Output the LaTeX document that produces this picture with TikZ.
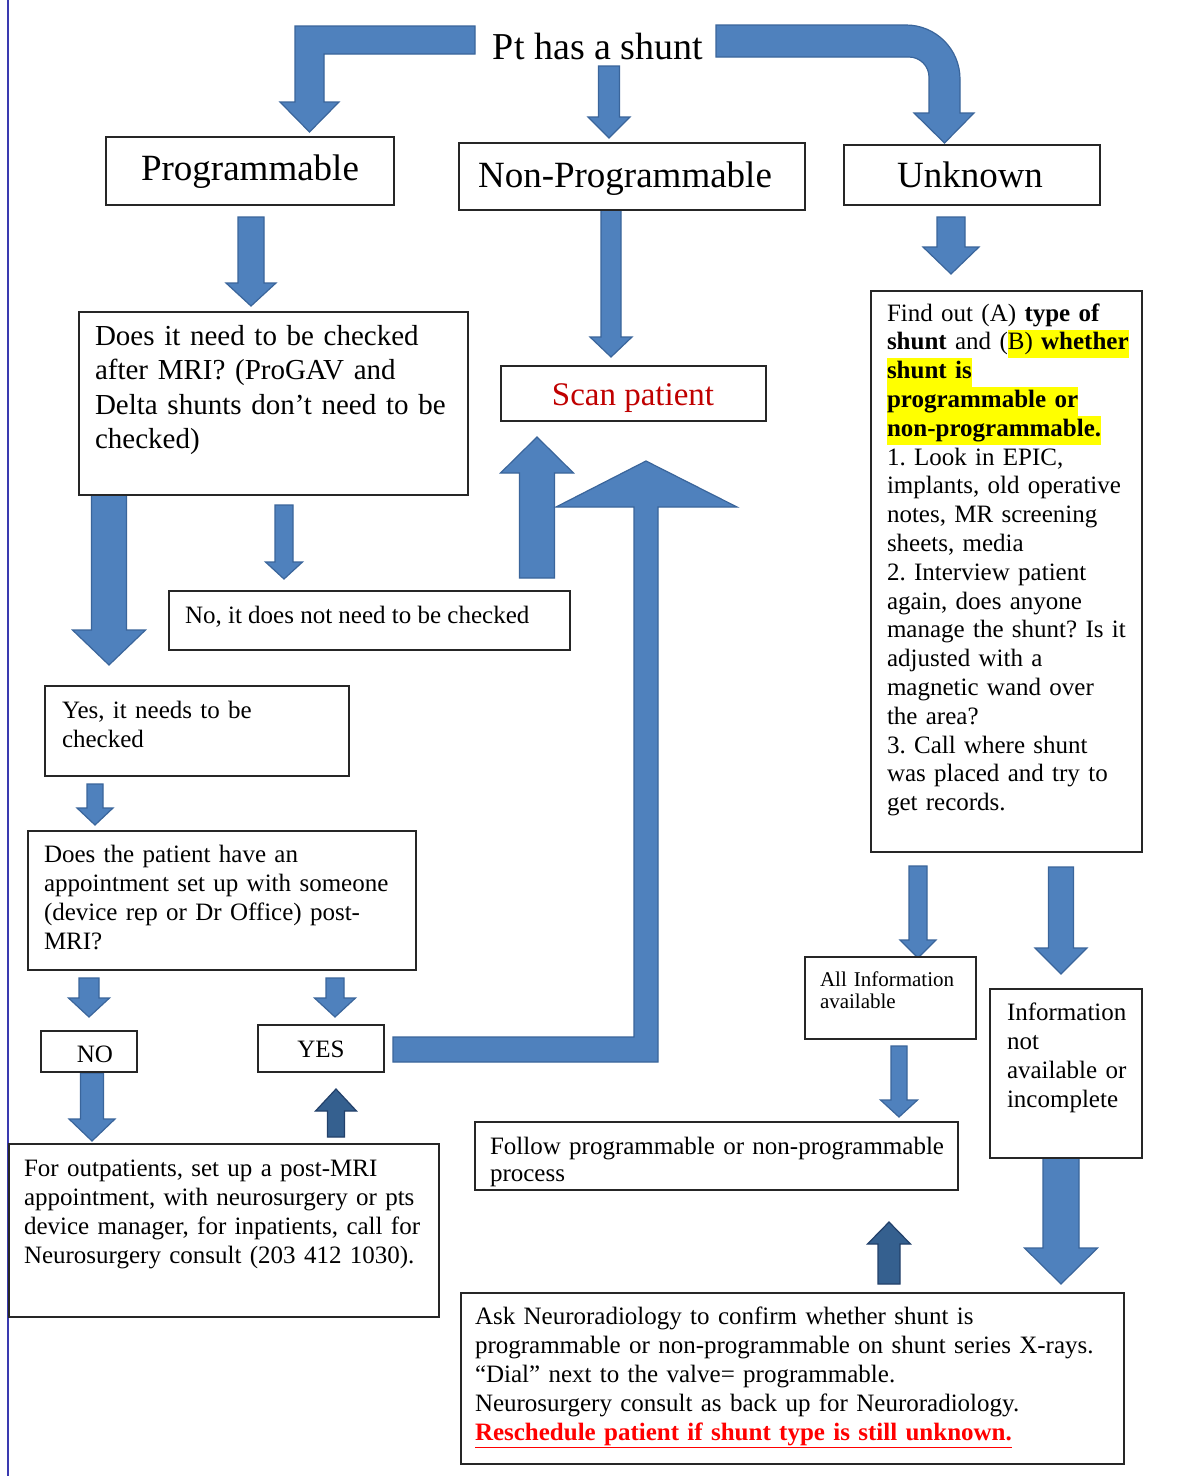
\documentclass[tikz,border=0pt]{standalone}
\usepackage{fontspec}
\setmainfont{Liberation Serif}
\frenchspacing
\definecolor{arrowfill}{HTML}{4F81BD}
\definecolor{arrowline}{HTML}{3A659B}
\definecolor{darkfill}{HTML}{35608F}
\definecolor{darkline}{HTML}{22406A}
\definecolor{scanred}{HTML}{C00000}
\definecolor{resred}{HTML}{FF0000}
\definecolor{edgeblue}{HTML}{3A3AB0}
\definecolor{hlyellow}{HTML}{FFFF00}
\newcommand\HL[1]{{\setlength{\fboxsep}{0pt}\colorbox{hlyellow}{\strut #1}}}
% cx, tail y, head-base y, tip y, shaft width, head width
\newcommand\BArrow[7][blockarrow]{\filldraw[#1] ({#2-#6/2},{#3}) -- ({#2+#6/2},{#3}) -- ({#2+#6/2},{#4}) -- ({#2+#7/2},{#4}) -- ({#2},{#5}) -- ({#2-#7/2},{#4}) -- ({#2-#6/2},{#4}) -- cycle;}
\newcommand\BoxAt[5]{\node[box, minimum width={#4-#2}, minimum height={#5-#3}] (#1) at ({(#2+#4)/2},{(#3+#5)/2}) {};}
\tikzset{
  box/.style={draw=black!85, line width=1.3pt, inner sep=0pt, outer sep=0pt, fill=white, rectangle},
  blockarrow/.style={fill=arrowfill, draw=arrowline, line width=1.2pt, line join=miter},
  darkarrow/.style={fill=darkfill, draw=darkline, line width=1.2pt, line join=miter},
  txt/.style={inner sep=0pt, outer sep=0pt, align=left, font=\fontsize{25}{29}\selectfont},
  bigtxt/.style={inner sep=0pt, outer sep=0pt, font=\fontsize{37}{44}\selectfont},
}
\begin{document}
\begin{tikzpicture}[x=1pt, y=-1pt]
\fill[white] (0,0) rectangle (1185,1476);
\useasboundingbox (0,0) rectangle (1185,1476);
\draw[edgeblue, line width=2pt] (8,0) -- (8,1476);

% ---------- block arrows ----------
% top left bent arrow
\filldraw[blockarrow] (475,26) -- (295,26) -- (295,102) -- (280,102) -- (309.5,132) -- (339,102) -- (324,102) -- (324,54) -- (475,54) -- cycle;
% top middle
\BArrow{609}{66}{117}{138}{21}{42}
% top right curved arrow
\filldraw[blockarrow] (716,25) -- (906,25) .. controls (935.8,25) and (960,49.2) .. (960,79) -- (960,113) -- (974,113) -- (944.5,143) -- (914,113) -- (929,113) -- (929,77) .. controls (929,66) and (920,57) .. (909,57) -- (716,57) -- cycle;
% programmable branch
\BArrow{251}{217}{283}{306}{26}{50}
\BArrow{109}{495}{630}{665}{35}{73}
\BArrow{284}{505}{562}{579}{18}{37}
\BArrow{537}{578}{473}{437}{35}{73}
\BArrow{95}{784}{808}{825}{16}{36}
\BArrow{89}{978}{998}{1017}{20}{41}
\BArrow{335}{978}{998}{1017}{18}{41}
\BArrow{92}{1073}{1119}{1141}{23}{46}
\BArrow[darkarrow]{336}{1137}{1111}{1089}{17}{41}
% YES -> Scan patient bent arrow
\filldraw[blockarrow] (393,1037) -- (634,1037) -- (634,507) -- (556,507) -- (646,461) -- (737,507) -- (658,507) -- (658,1062) -- (393,1062) -- cycle;
% non-programmable
\BArrow{611}{210}{337}{357}{20}{42}
% unknown branch
\BArrow{951}{217}{247}{274}{28}{56}
\BArrow{918}{866}{940}{958}{18}{36}
\BArrow{1061}{867}{948}{974}{25}{52}
\BArrow{899}{1046}{1100}{1117}{16}{37}
\BArrow{1061}{1158}{1248}{1284}{36}{73}
\BArrow[darkarrow]{889}{1284}{1244}{1222}{22}{43}

% ---------- boxes ----------
\BoxAt{prog}{106}{137}{394}{205}
\BoxAt{nonprog}{459}{143}{805}{210}
\BoxAt{unknown}{844}{145}{1100}{205}
\BoxAt{does}{79}{312}{468}{495}
\BoxAt{scan}{501}{366}{766}{421}
\BoxAt{find}{871}{291}{1142}{852}
\BoxAt{noneed}{169}{591}{570}{650}
\BoxAt{yesneed}{45}{686}{349}{776}
\BoxAt{appt}{28}{831}{416}{970}
\BoxAt{nobox}{41}{1031}{137}{1072}
\BoxAt{yesbox}{258}{1025}{384}{1072}
\BoxAt{outpt}{9}{1144}{439}{1317}
\BoxAt{allinfo}{805}{957}{976}{1039}
\BoxAt{infonot}{990}{989}{1142}{1158}
\BoxAt{follow}{475}{1122}{958}{1190}
\BoxAt{ask}{461}{1293}{1124}{1464}

% ---------- texts ----------
\node[bigtxt, anchor=base, font=\fontsize{38}{44}\selectfont] (pt) at (598,59) {Pt has a shunt};
\node[bigtxt, anchor=base] (prog-t) at (250,180) {Programmable};
\node[bigtxt, anchor=base] (nonprog-t) at (625,187) {Non-Programmable};
\node[bigtxt, anchor=base] (unknown-t) at (970,187) {Unknown};
\node[bigtxt, anchor=base, font=\fontsize{33}{40}\selectfont, text=scanred] (scan-t) at (633,405) {Scan patient};

\node[txt, anchor=base west, text width=380pt, font=\fontsize{29}{34.5}\selectfont] (does-t) at (95,345)
 {Does it need to be checked\\after MRI? (ProGAV and\\Delta shunts don’t need to be\\checked)};
\node[txt, anchor=base west] (noneed-t) at (185,623) {No, it does not need to be checked};
\node[txt, anchor=base west, text width=300pt] (yesneed-t) at (62,718) {Yes, it needs to be\\checked};
\node[txt, anchor=base west, text width=380pt] (appt-t) at (44,862)
 {Does the patient have an\\appointment set up with someone\\(device rep or Dr Office) post-\\MRI?};
\node[txt, anchor=base] (no-t) at (95,1062) {NO};
\node[txt, anchor=base] (yes-t) at (321,1057) {YES};
\node[txt, anchor=base west, text width=420pt] (outpt-t) at (24,1176)
 {For outpatients, set up a post-MRI\\appointment, with neurosurgery or pts\\device manager, for inpatients, call for\\Neurosurgery consult (203 412 1030).};

\node[txt, anchor=base west, text width=300pt, font=\fontsize{25}{28.8}\selectfont] (find-t) at (887,321)
 {Find out (A) \textbf{type of}\\
  \textbf{shunt} and (\HL{B) \textbf{whether}}\\
  \HL{\textbf{shunt is}}\\
  \HL{\textbf{programmable or}}\\
  \HL{\textbf{non-programmable.}}\\
  1. Look in EPIC,\\
  implants, old operative\\
  notes, MR screening\\
  sheets, media\\
  2. Interview patient\\
  again, does anyone\\
  manage the shunt? Is it\\
  adjusted with a\\
  magnetic wand over\\
  the area?\\
  3. Call where shunt\\
  was placed and try to\\
  get records.};
\node[txt, anchor=base west, text width=200pt, font=\fontsize{21}{22}\selectfont] (allinfo-t) at (820,986) {All Information\\available};
\node[txt, anchor=base west, text width=200pt] (infonot-t) at (1007,1020) {Information\\not\\available or\\incomplete};
\node[txt, anchor=base west, text width=480pt, font=\fontsize{25}{27}\selectfont] (follow-t) at (490,1154) {Follow programmable or non-programmable\\process};
\node[txt, anchor=base west, text width=640pt, font=\fontsize{25}{29.2}\selectfont] (ask-t) at (475,1324)
 {Ask Neuroradiology to confirm whether shunt is\\
  programmable or non-programmable on shunt series X-rays.\\
  “Dial” next to the valve= programmable.\\
  Neurosurgery consult as back up for Neuroradiology.\\
  \textcolor{resred}{\underline{\textbf{Reschedule patient if shunt type is still unknown.}}}};
\end{tikzpicture}
\end{document}
